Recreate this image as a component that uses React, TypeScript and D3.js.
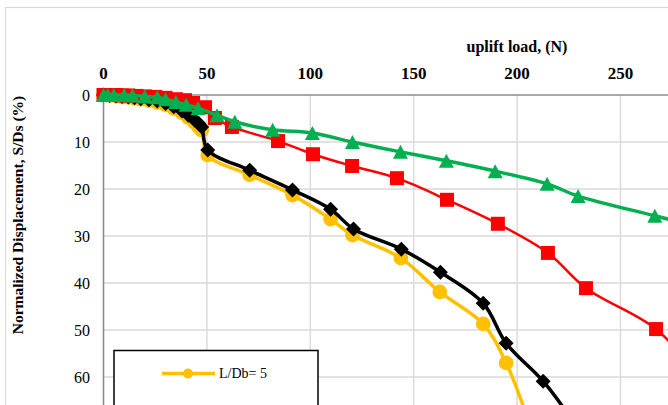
import { useEffect, useRef } from 'react';
import * as d3 from 'd3';

// uplift load (N) and normalized displacement S/Ds (%)
const loadL5 = [0, 3, 6, 9, 12, 15, 18, 22, 26, 30, 34, 38, 41, 44, 46, 47.5, 50.4, 70.7, 91.4, 109.8, 120.4, 143.8, 162.6, 183.6, 194.7, 206];
const dispL5 = [0, 0.1, 0.2, 0.4, 0.5, 0.7, 0.9, 1.2, 1.6, 2.1, 2.9, 3.8, 4.8, 5.8, 6.8, 7.5, 12.8, 17.0, 21.3, 26.4, 29.8, 34.7, 41.9, 48.7, 57.0, 70];

const loadBlack = [0, 3, 6, 9, 12, 15, 18, 22, 26, 30, 34, 38, 41, 44, 46, 47.5, 50.4, 70.7, 91.4, 109.8, 120.9, 144, 162.9, 183.6, 194.7, 212.6, 228];
const dispBlack = [0, 0.1, 0.2, 0.3, 0.4, 0.6, 0.8, 1.0, 1.3, 1.8, 2.5, 3.4, 4.3, 5.3, 6.0, 6.8, 11.7, 16.0, 20.2, 24.3, 28.5, 32.8, 37.7, 44.3, 52.8, 60.9, 70];

const loadRed = [0, 3, 6, 9, 12, 16, 20, 25, 30, 35, 39.4, 43.3, 49.1, 53.9, 62.1, 84.4, 101.3, 120.2, 141.9, 166.1, 190.7, 214.9, 233.3, 267.2, 290];
const dispRed = [0, 0, 0, 0.1, 0.1, 0.2, 0.3, 0.4, 0.6, 0.9, 1.1, 1.7, 2.6, 4.9, 6.8, 9.8, 12.6, 15.1, 17.7, 22.3, 27.4, 33.6, 41.1, 49.8, 61];

const loadGreen = [0, 2, 5, 10, 14, 20, 26, 30, 35, 40, 45.7, 54.9, 63.5, 81.8, 101, 120.4, 143.6, 165.8, 189.4, 214.5, 229.5, 266.6, 290];
const dispGreen = [0, 0, 0, 0, 0.1, 0.3, 0.5, 0.9, 1.5, 2.1, 2.8, 4.3, 5.7, 7.4, 8.1, 10, 12.1, 14, 16.2, 18.9, 21.5, 25.7, 28.3];

const xTicks = [0, 50, 100, 150, 200, 250];
const yTicks = [0, 10, 20, 30, 40, 50, 60];

const serif = '"Liberation Serif", "Times New Roman", serif';

function App() {
  const svgRef = useRef<SVGSVGElement>(null);

  useEffect(() => {
    const W = 668;
    const H = 405;
    const svg = d3.select(svgRef.current);
    svg.selectAll('*').remove();

    const x = d3.scaleLinear().domain([0, 300]).range([103.5, 103.5 + 300 * 2.068]);
    const y = d3.scaleLinear().domain([0, 70]).range([95, 95 + 70 * 4.7]);

    svg.append('rect').attr('width', W).attr('height', H).attr('fill', '#fff');

    // chart outer border
    svg
      .append('rect')
      .attr('x', 5.5)
      .attr('y', 7.5)
      .attr('width', 800)
      .attr('height', 500)
      .attr('fill', 'none')
      .attr('stroke', '#d9d9d9')
      .attr('stroke-width', 1.2);

    // grid
    const grid = svg.append('g').attr('stroke', '#d9d9d9').attr('stroke-width', 1.4);
    grid
      .selectAll('.gx')
      .data(xTicks.concat([300]).slice(1))
      .enter()
      .append('line')
      .attr('x1', (d) => x(d))
      .attr('x2', (d) => x(d))
      .attr('y1', y(0))
      .attr('y2', H + 20);
    grid
      .selectAll('.gy')
      .data(yTicks.concat([70]).slice(1))
      .enter()
      .append('line')
      .attr('x1', x(0))
      .attr('x2', W + 20)
      .attr('y1', (d) => y(d))
      .attr('y2', (d) => y(d));

    // axes lines
    svg
      .append('line')
      .attr('x1', x(0))
      .attr('x2', W + 20)
      .attr('y1', y(0))
      .attr('y2', y(0))
      .attr('stroke', '#8c8c8c')
      .attr('stroke-width', 1.6);
    svg
      .append('line')
      .attr('x1', x(0))
      .attr('x2', x(0))
      .attr('y1', y(0))
      .attr('y2', H + 20)
      .attr('stroke', '#8c8c8c')
      .attr('stroke-width', 1.6);

    // tick labels
    svg
      .selectAll('.xt')
      .data(xTicks)
      .enter()
      .append('text')
      .attr('x', (d) => x(d))
      .attr('y', 79)
      .attr('text-anchor', 'middle')
      .style('font-family', serif)
      .style('font-size', '17px')
      .style('font-weight', 'bold')
      .text((d) => d);
    svg
      .selectAll('.yt')
      .data(yTicks)
      .enter()
      .append('text')
      .attr('x', 90)
      .attr('y', (d) => y(d))
      .attr('dy', '0.35em')
      .attr('text-anchor', 'end')
      .style('font-family', serif)
      .style('font-size', '16px')
      .text((d) => d);

    // axis titles
    svg
      .append('text')
      .attr('x', 517)
      .attr('y', 52)
      .attr('text-anchor', 'middle')
      .style('font-family', serif)
      .style('font-size', '16px')
      .style('font-weight', 'bold')
      .text('uplift load, (N)');
    svg
      .append('text')
      .attr('transform', 'translate(23,215) rotate(-90)')
      .attr('text-anchor', 'middle')
      .style('font-family', serif)
      .style('font-size', '15.5px')
      .style('font-weight', 'bold')
      .text('Normalized Displacement, S/Ds (%)');

    const series = [
      { load: loadL5, disp: dispL5, color: '#FFC000', width: 3.5, marker: 'circle' },
      { load: loadBlack, disp: dispBlack, color: '#000000', width: 3.5, marker: 'diamond' },
      { load: loadRed, disp: dispRed, color: '#FF0000', width: 2.5, marker: 'square' },
      { load: loadGreen, disp: dispGreen, color: '#00B050', width: 3.5, marker: 'triangle' },
    ];

    const markerPath = (m: string) => {
      if (m === 'circle') return d3.symbol(d3.symbolCircle, 170)()!;
      if (m === 'square') return 'M-7,-7H7V7H-7Z';
      if (m === 'diamond') return 'M0,-7.5L7.5,0L0,7.5L-7.5,0Z';
      return 'M0,-7L7.5,7L-7.5,7Z';
    };

    const line = d3.line().curve(d3.curveCatmullRom.alpha(0.5));

    series.forEach((s) => {
      const pts: [number, number][] = s.load.map((l, i) => [x(l), y(s.disp[i])]);
      const g = svg.append('g');
      g.append('path')
        .attr('d', line(pts))
        .attr('fill', 'none')
        .attr('stroke', s.color)
        .attr('stroke-width', s.width)
        .attr('stroke-linejoin', 'round');
      g.selectAll('path.m')
        .data(pts)
        .enter()
        .append('path')
        .attr('class', 'm')
        .attr('transform', (d) => `translate(${d[0]},${d[1]})`)
        .attr('d', markerPath(s.marker))
        .attr('fill', s.color);
    });

    // legend (cut off at the bottom of the picture)
    const lg = svg.append('g');
    lg.append('rect')
      .attr('x', 114)
      .attr('y', 350.5)
      .attr('width', 204)
      .attr('height', 120)
      .attr('fill', '#fff')
      .attr('stroke', '#000')
      .attr('stroke-width', 1.5);
    lg.append('line')
      .attr('x1', 162)
      .attr('x2', 215)
      .attr('y1', 373.5)
      .attr('y2', 373.5)
      .attr('stroke', '#FFC000')
      .attr('stroke-width', 3.5);
    lg.append('circle').attr('cx', 188).attr('cy', 373.5).attr('r', 5).attr('fill', '#FFC000');
    lg.append('text')
      .attr('x', 219)
      .attr('y', 373.5)
      .attr('dy', '0.35em')
      .style('font-family', serif)
      .style('font-size', '14px')
      .text('L/Db= 5');
  }, []);

  return (
    <svg
      ref={svgRef}
      width={668}
      height={405}
      style={{ position: 'absolute', left: 0, top: 0, display: 'block', overflow: 'hidden' }}
    />
  );
}

export default App;
